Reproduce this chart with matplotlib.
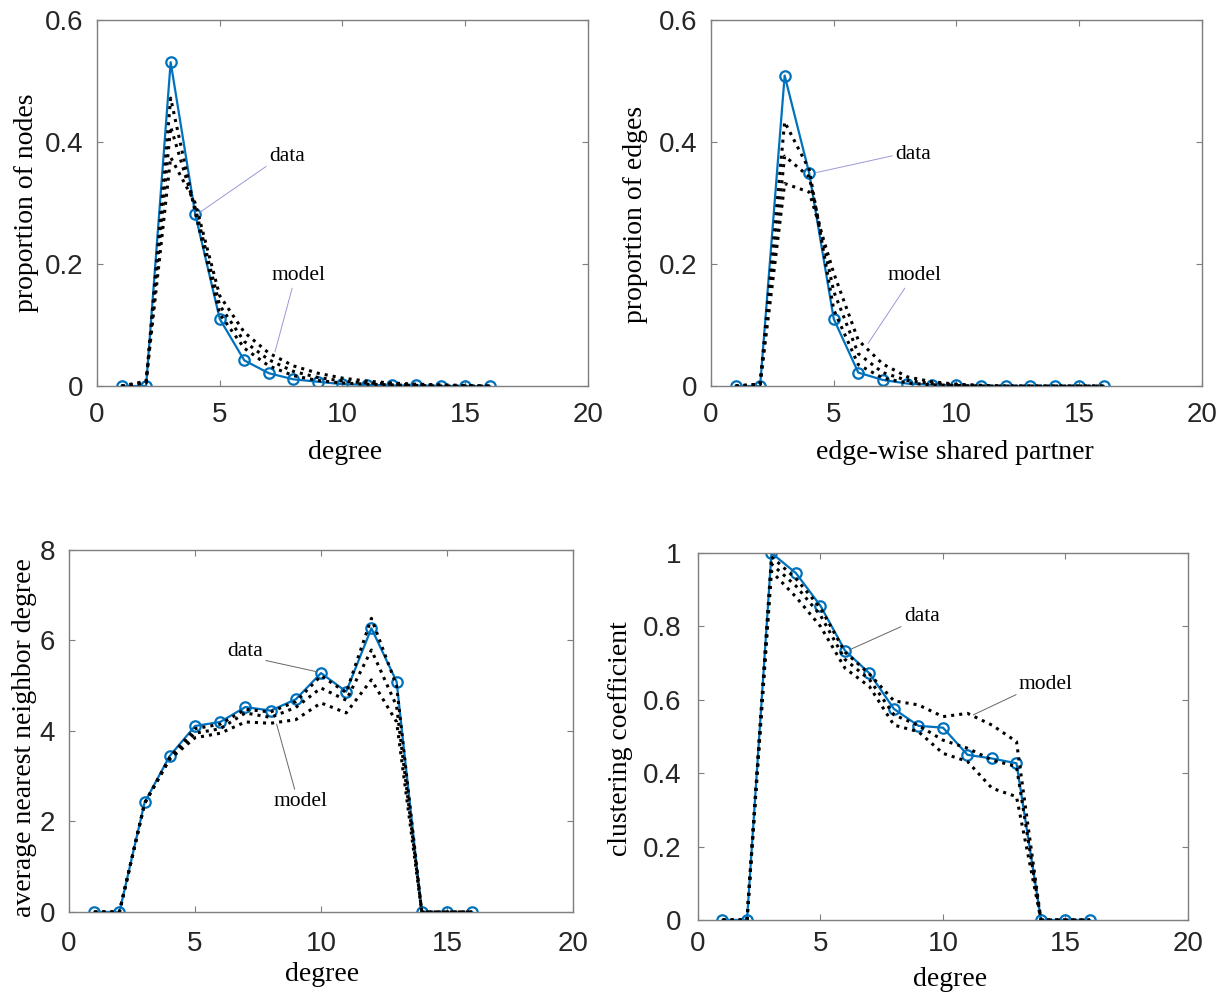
import numpy as np
import matplotlib
matplotlib.use("Agg")
import matplotlib.pyplot as plt

# ---- data ----
x = np.arange(1, 17)

# degree distribution
deg_data = [0, 0, 0.531, 0.282, 0.110, 0.042, 0.021, 0.011, 0.007, 0.003, 0.002, 0.001, 0.001, 0, 0, 0]
deg_hi = [0, 0.005, 0.472, 0.285, 0.118, 0.062, 0.033, 0.017, 0.009, 0.005, 0.003, 0.002, 0.001, 0, 0, 0]
deg_mid = [0, 0.006, 0.425, 0.292, 0.132, 0.073, 0.043, 0.024, 0.014, 0.008, 0.005, 0.003, 0.002, 0.001, 0, 0]
deg_lo = [0, 0.008, 0.375, 0.300, 0.148, 0.088, 0.054, 0.033, 0.021, 0.013, 0.008, 0.005, 0.003, 0.002, 0.001, 0]

# edge-wise shared partners
esp_data = [0, 0, 0.509, 0.349, 0.110, 0.022, 0.010, 0.004, 0.002, 0.001, 0, 0, 0, 0, 0, 0]
esp_hi = [0, 0.003, 0.433, 0.355, 0.125, 0.035, 0.013, 0.005, 0.002, 0.001, 0, 0, 0, 0, 0, 0]
esp_mid = [0, 0.003, 0.377, 0.343, 0.155, 0.053, 0.022, 0.009, 0.004, 0.002, 0.001, 0, 0, 0, 0, 0]
esp_lo = [0, 0.003, 0.332, 0.318, 0.185, 0.075, 0.036, 0.015, 0.007, 0.003, 0.001, 0, 0, 0, 0, 0]

# average nearest neighbor degree
knn_data = [0, 0, 2.42, 3.45, 4.11, 4.20, 4.53, 4.45, 4.70, 5.28, 4.87, 6.27, 5.09, 0, 0, 0]
knn_hi = [0, 0, 2.40, 3.42, 4.05, 4.15, 4.48, 4.42, 4.65, 5.22, 4.85, 6.49, 5.00, 0, 0, 0]
knn_mid = [0, 0, 2.40, 3.40, 3.95, 4.05, 4.40, 4.30, 4.52, 4.95, 4.68, 5.79, 4.55, 0, 0, 0]
knn_lo = [0, 0, 2.40, 3.38, 3.85, 3.95, 4.20, 4.17, 4.25, 4.62, 4.40, 5.13, 4.20, 0, 0, 0]

# clustering coefficient
cc_data = [0, 0, 1.0, 0.945, 0.856, 0.734, 0.672, 0.575, 0.529, 0.524, 0.450, 0.440, 0.427, 0, 0, 0]
cc_hi = [0, 0, 0.99, 0.93, 0.85, 0.73, 0.67, 0.597, 0.586, 0.554, 0.563, 0.531, 0.486, 0, 0, 0]
cc_mid = [0, 0, 0.97, 0.91, 0.83, 0.71, 0.655, 0.559, 0.530, 0.490, 0.468, 0.436, 0.418, 0, 0, 0]
cc_lo = [0, 0, 0.95, 0.88, 0.80, 0.686, 0.636, 0.531, 0.513, 0.454, 0.432, 0.359, 0.336, 0, 0, 0]

BLUE = "#0072BD"
SERIF = "Liberation Serif"
SANS = "Liberation Sans"

fig = plt.figure(figsize=(12.28, 9.98), dpi=100)


def panel(rect, data, models, yticks, yticklabels, xlabel, ylabel, xlab_pos, ylab_pos, xpad, ypad):
    ax = fig.add_axes(rect)
    ax.plot(x, data, "-o", color=BLUE, lw=1.6, ms=7.5, mfc="none", mew=1.6, zorder=2)
    for m in models:
        ax.plot(x, m, ":", color="black", lw=2.2, zorder=3)
    ax.set_xlim(0, 20)
    ax.set_ylim(yticks[0], yticks[-1])
    ax.set_xticks([0, 5, 10, 15, 20])
    ax.set_yticks(yticks)
    ax.set_yticklabels(yticklabels)
    for s in ax.spines.values():
        s.set_color("#7f7f7f")
        s.set_linewidth(1.0)
    ax.tick_params(direction="in", top=True, right=True, length=4, width=0.8,
                   color="#7f7f7f", labelcolor="#262626", labelsize=20)
    ax.tick_params(axis="x", pad=xpad)
    ax.tick_params(axis="y", pad=ypad)
    for lab in ax.get_xticklabels() + ax.get_yticklabels():
        lab.set_family(SANS)
    ax.set_xlabel(xlabel, family=SERIF, fontsize=20)
    ax.set_ylabel(ylabel, family=SERIF, fontsize=20)
    ax.xaxis.set_label_coords(*xlab_pos)
    ax.yaxis.set_label_coords(*ylab_pos)
    ax.xaxis.label.set_va("center")
    ax.yaxis.label.set_va("center")
    return ax


def note(ax, text, xy, xytext, ha, va, relpos, color):
    ax.annotate(text, xy=xy, xytext=xytext, ha=ha, va=va, family=SERIF, fontsize=15.5,
                arrowprops=dict(arrowstyle="-", color=color, lw=0.7, shrinkA=0, shrinkB=0,
                                relpos=relpos))


ax1 = panel([0.0790, 0.6132, 0.3998, 0.3667], deg_data, [deg_hi, deg_mid, deg_lo],
            [0, 0.2, 0.4, 0.6], ["0", "0.2", "0.4", "0.6"], "degree", "proportion of nodes",
            (0.505, -0.183), (-0.143, 0.5), 11.4, 10)
note(ax1, "data", (4.2, 0.285), (7.0, 0.36), "left", "bottom", (0, 0.1), "#9a9ad6")
note(ax1, "model", (7.25, 0.056), (8.2, 0.165), "center", "bottom", (0.4, 0), "#9a9ad6")

ax2 = panel([0.5790, 0.6132, 0.3998, 0.3667], esp_data, [esp_hi, esp_mid, esp_lo],
            [0, 0.2, 0.4, 0.6], ["0", "0.2", "0.4", "0.6"], "edge-wise shared partner",
            "proportion of edges", (0.497, -0.183), (-0.153, 0.47), 11.4, 10)
note(ax2, "data", (4.3, 0.35), (7.5, 0.38), "left", "center", (0, 0.45), "#9a9ad6")
note(ax2, "model", (6.4, 0.07), (8.3, 0.165), "center", "bottom", (0.35, 0), "#9a9ad6")

ax3 = panel([0.0562, 0.0862, 0.4104, 0.3627], knn_data, [knn_hi, knn_mid, knn_lo],
            [0, 2, 4, 6, 8], ["0", "2", "4", "6", "8"], "degree",
            "average nearest neighbor degree", (0.502, -0.174), (-0.089, 0.483), 13.5, 10)
note(ax3, "data", (9.83, 5.31), (7.7, 5.55), "right", "bottom", (1, 0.05), "#666666")
note(ax3, "model", (8.24, 4.15), (9.2, 2.65), "center", "top", (0.4, 1), "#666666")

ax4 = panel([0.5684, 0.0782, 0.3990, 0.3677], cc_data, [cc_hi, cc_mid, cc_lo],
            [0, 0.2, 0.4, 0.6, 0.8, 1.0], ["0", "0.2", "0.4", "0.6", "0.8", "1"], "degree",
            "clustering coefficient", (0.514, -0.163), (-0.159, 0.493), 7.8, 12)
note(ax4, "data", (6.18, 0.736), (8.4, 0.80), "left", "bottom", (0, 0.05), "#666666")
note(ax4, "model", (11.24, 0.559), (13.1, 0.615), "left", "bottom", (0, 0.05), "#666666")

fig.savefig("out.png", dpi=100)
